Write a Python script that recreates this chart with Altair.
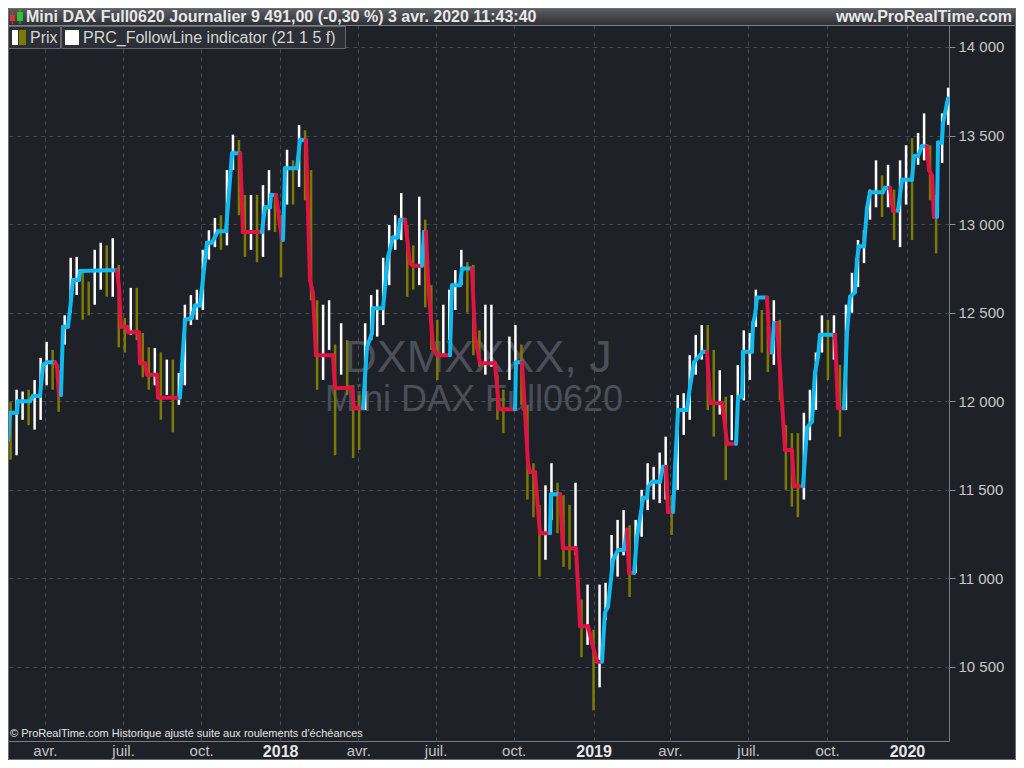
import altair as alt
import pandas as pd

# ---------------- data ----------------
# Weekly price bars (one per week, Wednesday date), high / low in points
week_first = "2017-02-22"
bar_high = [
    11995, 12065, 12055, 12065, 12120, 12245, 12335, 12290, 12175, 12485,
    12810, 12815, 12740, 12675, 12855, 12895, 12880, 12920, 12770, 12470,
    12640, 12640, 12385, 12305, 12300, 12275, 12235, 12235, 12160, 12545,
    12600, 12630, 12855, 12965, 13035, 13050, 13305, 13505, 13475, 13165,
    13165, 13165, 13220, 13305, 13165, 13050, 13420, 13360, 13560, 13530,
    13305, 12570, 12545, 12570, 12320, 12440, 12345, 12090, 12035, 12440,
    12600, 12630, 12810, 12995, 13050, 13175, 12995, 12880, 13155, 13025,
    12655, 12460, 12545, 12630, 12740, 12855, 12785, 12770, 12400, 12545,
    12545, 12150, 12065, 12365, 12430, 12320, 11980, 11650, 11415, 11525,
    11650, 11540, 11470, 11415, 11540, 10880, 10965, 10710, 10965, 10975,
    11245, 11330, 11385, 11300, 11330, 11500, 11650, 11630, 11710, 11800,
    11470, 12035, 12045, 12260, 12375, 12430, 12430, 12290, 12175, 12025,
    12035, 12205, 12400, 12385, 12630, 12515, 12430, 12570, 12460, 11865,
    11820, 11820, 11935, 12065, 12275, 12485, 12460, 12485, 12205, 12545,
    12725, 12910, 12965, 13195, 13360, 13275, 13335, 13195, 13360, 13445,
    13485, 13515, 13625, 13445, 13165, 13625, 13770,
]
bar_low = [
    11670, 11695, 11895, 11865, 11840, 11895, 12090, 12065, 11940, 12320,
    12500, 12600, 12460, 12485, 12545, 12630, 12590, 12590, 12305, 12275,
    12375, 12345, 12135, 12065, 12090, 11895, 12035, 11825, 11980, 12090,
    12430, 12460, 12515, 12800, 12870, 12855, 12880, 13305, 13050, 12815,
    12855, 12785, 12815, 12965, 12955, 12700, 13110, 13110, 13210, 13135,
    12570, 12065, 12120, 12290, 11695, 12150, 12035, 11680, 11725, 11950,
    12345, 12365, 12430, 12655, 12855, 12910, 12590, 12630, 12655, 12530,
    12290, 12120, 12250, 12345, 12515, 12655, 12500, 12260, 12195, 12150,
    12195, 11895, 11820, 12120, 12220, 11980, 11445, 11345, 11010, 11105,
    11330, 11255, 11065, 11050, 11130, 10555, 10625, 10255, 10385, 10765,
    10990, 11010, 11130, 10895, 11030, 11235, 11385, 11445, 11425, 11445,
    11245, 11500, 11810, 11895, 12150, 12235, 11950, 11800, 11925, 11555,
    11780, 11935, 12005, 12120, 12420, 12275, 12165, 12205, 12005, 11500,
    11405, 11345, 11445, 11780, 11950, 12275, 12120, 12235, 11800, 11950,
    12500, 12645, 12780, 13025, 13095, 13040, 13095, 12910, 12870, 13110,
    12910, 13335, 13360, 13135, 12835, 13345, 13560,
]
bar_up = [
    0, 1, 1, 0, 1, 1, 1, 0, 0, 1,
    1, 1, 0, 0, 1, 1, 0, 1, 0, 0,
    1, 0, 0, 0, 1, 0, 1, 0, 1, 1,
    1, 1, 1, 1, 1, 0, 1, 1, 0, 0,
    1, 0, 1, 1, 0, 0, 1, 0, 1, 0,
    0, 0, 1, 1, 0, 1, 0, 0, 0, 1,
    1, 1, 1, 1, 1, 1, 0, 0, 1, 0,
    0, 0, 1, 1, 1, 1, 0, 0, 0, 1,
    1, 0, 0, 1, 1, 0, 0, 0, 0, 1,
    1, 0, 0, 0, 1, 0, 1, 0, 1, 1,
    1, 1, 1, 0, 1, 1, 1, 1, 1, 1,
    0, 1, 1, 1, 1, 1, 0, 0, 1, 0,
    1, 1, 1, 1, 1, 0, 0, 1, 0, 0,
    0, 0, 1, 1, 1, 1, 0, 1, 0, 1,
    1, 1, 1, 1, 1, 0, 1, 0, 1, 1,
    0, 1, 1, 0, 0, 1, 1,
]

# FollowLine indicator: vertices (days after 2017-02-19, value, trend B=up / R=down)
fl_start = "2017-02-19"
fl_day = [
    0, 2.3, 10.5, 11.6, 25.6, 29.1, 37.3, 40.8, 45.4, 54.7,
    57.1, 59.4, 61.7, 64.1, 69.9, 72.2, 75.7, 82.7, 83.9, 115.3,
    127, 129.3, 131.6, 138.6, 139.8, 152.6, 153.7, 159.6, 161.9, 173.5,
    174.7, 200.3, 202.7, 206.2, 214.3, 215.5, 217.8, 223.6, 231.8, 237.6,
    244.6, 253.9, 260.9, 270.4, 273.7, 295.8, 299.3, 305.2, 306.3, 312.1,
    319.1, 320.3, 322.6, 336.6, 340.1, 347.1, 351.7, 355.2, 358.7, 378.5,
    380.8, 400.7, 402.9, 413.5, 418.1, 424, 425.1, 436.8, 442.6, 448.4,
    454.2, 456.6, 462.4, 468.2, 471.7, 482.2, 484.5, 486.8, 489.2, 495,
    499.7, 514.8, 517.1, 526.4, 528.8, 540.4, 543.9, 549.7, 567.2, 571.9,
    590.5, 591.7, 598.7, 602.1, 605.6, 607.9, 613.8, 619.6, 631.3, 632.4,
    642.9, 646.4, 661.6, 666.3, 675.6, 680.2, 686.1, 691.8, 695.3, 698.8,
    704.7, 710.5, 717.5, 721, 723.3, 729.2, 732.6, 737.3, 739.6, 744.3,
    745.4, 750.1, 759.4, 762.9, 766.4, 768.7, 774.6, 776.9, 780.4, 790.8,
    794.3, 799, 806, 809.5, 814.2, 817.6, 831.6, 834, 837.5, 848,
    850.3, 855, 856.1, 866.5, 867.7, 870.1, 872.4, 884, 887.5, 889.9,
    892.2, 895.7, 905, 913.1, 915.5, 926, 930.6, 936.4, 939.9, 943.4,
    945.8, 963.2, 966.7, 973.7, 977.2, 980.7, 986.5, 988.8, 991.1, 997,
    1000.5, 1003.9, 1019.1, 1021.4, 1027.2, 1030.7, 1036.6, 1041.2, 1052.9, 1055.2,
    1059.9, 1064.5, 1070.3, 1072.7, 1076.2, 1078.5, 1082, 1083.2, 1087.8, 1089,
    1094.8,
]
fl_value = [
    11780, 11935, 11935, 12000, 12000, 12030, 12030, 12205, 12220, 12220,
    12200, 12035, 12035, 12420, 12420, 12515, 12685, 12685, 12735, 12740,
    12740, 12645, 12420, 12420, 12390, 12390, 12215, 12215, 12150, 12150,
    12020, 12020, 12205, 12460, 12470, 12500, 12540, 12540, 12895, 12895,
    12960, 12960, 13400, 13400, 12955, 12955, 13095, 13095, 13165, 13165,
    12910, 12910, 13315, 13315, 13475, 13475, 12685, 12610, 12260, 12260,
    12075, 12075, 11960, 11960, 12305, 12385, 12525, 12525, 12815, 12925,
    12925, 13025, 13025, 12780, 12765, 12765, 12955, 12955, 12685, 12305,
    12260, 12260, 12655, 12655, 12750, 12750, 12365, 12215, 12215, 11955,
    11955, 12220, 12220, 11950, 11650, 11600, 11600, 11255, 11255, 11475,
    11475, 11170, 11170, 10730, 10730, 10635, 10530, 10530, 10805, 10840,
    11105, 11160, 11160, 11275, 11030, 11030, 11235, 11375, 11455, 11455,
    11515, 11545, 11545, 11630, 11630, 11375, 11375, 11630, 11950, 11950,
    12080, 12220, 12260, 12280, 12280, 11990, 11990, 11910, 11760, 11760,
    12025, 12025, 12280, 12280, 12440, 12485, 12585, 12585, 12275, 12275,
    12440, 12440, 11725, 11725, 11520, 11520, 11850, 11885, 12160, 12250,
    12375, 12375, 11960, 11960, 12385, 12590, 12615, 12800, 12875, 12875,
    13090, 13180, 13180, 13205, 13205, 13075, 13075, 13250, 13250, 13385,
    13385, 13440, 13440, 13305, 13275, 13040, 13040, 13460, 13460, 13570,
    13710,
]
fl_trend = list(
    "BBBBBBBBBB" "RRRBBBBBBB" "BRRRRRRRRR" "RRBBBBBBBB" "BBBBRRBBBB"
    "RRBBBBRRRR" "RRRRBBBBBB" "BBBRRRBBRR" "RRBBBBRRRR" "RBBRRRRRRB"
    "BRRRRRRRBB" "BBBBRRBBBB" "BBBBBRRBBB" "BBBBBRRRRR" "BBBBBBBBRR"
    "BBRRRRBBBB" "BBRRBBBBBB" "BBBBBRRBBB" "BBBRRRRBBB" "B"
)

y_ticks = [10500, 11000, 11500, 12000, 12500, 13000, 13500, 14000]
x_tick_dates = ["2017-04-03", "2017-07-03", "2017-10-02", "2018-01-02",
                "2018-04-03", "2018-07-02", "2018-10-01", "2019-01-02",
                "2019-04-01", "2019-07-01", "2019-10-01", "2020-01-02"]
x_range = ["2017-02-19", "2020-02-20"]
y_range = [10082, 14124]

title_text = "Mini DAX Full0620 Journalier 9 491,00 (-0,30 %) 3 avr. 2020 11:43:40"
site_text = "www.ProRealTime.com"
legend_prix = "Prix"
legend_fl = "PRC_FollowLine indicator (21 1 5 f)"
wm_1 = "DXMXXXX, J"
wm_2 = "Mini DAX Full0620"
foot_text = "© ProRealTime.com  Historique ajusté suite aux roulements d'échéances"

# ---------------- styling ----------------
BG = "#1f2129"
GRID = "#464953"
BLUE = "#0fbaf0"
RED = "#e01440"
OLIVE = "#7b7b00"
FONT = "Liberation Sans"
W, H = 941, 716
PAD = {"left": 0, "top": 17, "right": 67, "bottom": 19}
TOTAL_W = W + PAD["left"] + PAD["right"]


def ms(s):
    return int(pd.Timestamp(s, tz="UTC").timestamp() * 1000)


DAY = 86400000
n = min(len(bar_high), len(bar_low), len(bar_up))
weeks = pd.date_range(week_first, periods=n, freq="7D", tz="UTC")
bars = pd.DataFrame({
    "date": [int(d.timestamp() * 1000) for d in weeks],
    "high": bar_high[:n],
    "low": bar_low[:n],
    "dir": ["up" if u else "down" for u in bar_up[:n]],
})

m = min(len(fl_day), len(fl_value), len(fl_trend))
base = ms(fl_start)
fl_ms = [base + d * DAY for d in fl_day[:m]]
seg = pd.DataFrame({
    "x": fl_ms[:-1],
    "x2": fl_ms[1:],
    "y": fl_value[:m - 1],
    "y2": fl_value[1:m],
    "trend": fl_trend[1:m],
})

x_scale = alt.Scale(type="utc", domain=[ms(x_range[0]), ms(x_range[1])], nice=False)
y_scale = alt.Scale(domain=y_range, nice=False, zero=False)

is_year = "utcmonth(datum.value) == 0"
x_axis = alt.Axis(
    values=[ms(d) for d in x_tick_dates],
    labelExpr=("utcmonth(datum.value) == 0 ? utcFormat(datum.value, '%Y') : "
               "(utcmonth(datum.value) == 3 ? 'avr.' : "
               "(utcmonth(datum.value) == 6 ? 'juil.' : 'oct.'))"),
    grid=True, gridColor=GRID, gridDash=[4, 4], gridWidth=1,
    ticks=False, domain=False, title=None,
    labelFont=FONT, labelPadding=2, labelFlush=False, labelOverlap=False,
    labelFontSize={"condition": {"test": is_year, "value": 16}, "value": 15},
    labelFontWeight={"condition": {"test": is_year, "value": "bold"}, "value": "normal"},
    labelColor={"condition": {"test": is_year, "value": "#e8e8e8"}, "value": "#c4c4c4"},
)
y_axis = alt.Axis(
    orient="right", values=y_ticks,
    labelExpr="replace(format(datum.value, ',d'), ',', ' ')",
    grid=True, gridColor=GRID, gridDash=[4, 4], gridWidth=1,
    ticks=True, tickSize=6, tickColor="#8a8c91", domain=False, title=None,
    labelFont=FONT, labelFontSize=15, labelColor="#c8c8c8", labelPadding=3,
)

one = pd.DataFrame({"k": [0]})
base_chart = alt.Chart(one)

# watermark
wm_a = base_chart.mark_text(font=FONT, fontSize=45, color="#4c4f58", align="center",
                            baseline="alphabetic").encode(
    x=alt.value(470), y=alt.value(347), text=alt.value(wm_1))
wm_b = base_chart.mark_text(font=FONT, fontSize=36, color="#4c4f58", align="center",
                            baseline="alphabetic").encode(
    x=alt.value(466), y=alt.value(386), text=alt.value(wm_2))

# price bars
bar_layer = alt.Chart(bars).mark_rule(strokeWidth=2.5).encode(
    x=alt.X("date:T", scale=x_scale, axis=x_axis),
    y=alt.Y("high:Q", scale=y_scale, axis=y_axis),
    y2="low:Q",
    color=alt.Color("dir:N", scale=alt.Scale(domain=["up", "down"], range=["#ffffff", OLIVE]),
                    legend=None),
)

# follow line
fl_layer = alt.Chart(seg).mark_rule(strokeWidth=4, strokeCap="round").encode(
    x=alt.X("x:T", scale=x_scale, axis=x_axis),
    x2="x2:T",
    y=alt.Y("y:Q", scale=y_scale, axis=y_axis),
    y2="y2:Q",
    stroke=alt.Stroke("trend:N", scale=alt.Scale(domain=["B", "R"], range=[BLUE, RED]),
                      legend=None),
)

# header band
header = base_chart.mark_rect(
    fill=alt.LinearGradient(gradient="linear",
                            stops=[alt.GradientStop(color="#5b5e63", offset=0),
                                   alt.GradientStop(color="#2e3035", offset=1)],
                            x1=0, x2=0, y1=0, y2=1)
).encode(x=alt.value(0), x2=alt.value(TOTAL_W), y=alt.value(-PAD["top"]), y2=alt.value(0))
header_line = base_chart.mark_rule(color="#7e8085", strokeWidth=1).encode(
    x=alt.value(0), x2=alt.value(TOTAL_W), y=alt.value(0.5))
icon_red = base_chart.mark_rect(color="#e03030").encode(
    x=alt.value(2), x2=alt.value(7), y=alt.value(-10), y2=alt.value(-4))
icon_red_w = base_chart.mark_rule(color="#e03030").encode(
    x=alt.value(4.5), y=alt.value(-13), y2=alt.value(-1))
icon_green = base_chart.mark_rect(color="#30c030").encode(
    x=alt.value(9), x2=alt.value(15), y=alt.value(-13), y2=alt.value(-4))
icon_green_w = base_chart.mark_rule(color="#30c030").encode(
    x=alt.value(12), y=alt.value(-16), y2=alt.value(-1))
title = base_chart.mark_text(font=FONT, fontSize=16, fontWeight="bold", color="#e8e8e8",
                             align="left", baseline="middle").encode(
    x=alt.value(18), y=alt.value(-8), text=alt.value(title_text))
site = base_chart.mark_text(font=FONT, fontSize=16, fontWeight="bold", color="#e8e8e8",
                            align="right", baseline="middle").encode(
    x=alt.value(TOTAL_W - 4), y=alt.value(-8), text=alt.value(site_text))

# legend row
leg_box1 = base_chart.mark_rect(fill="#2c2f35", stroke="#62656b", strokeWidth=1).encode(
    x=alt.value(0.5), x2=alt.value(52.5), y=alt.value(1.5), y2=alt.value(23.5))
leg_box2 = base_chart.mark_rect(fill="#2c2f35", stroke="#62656b", strokeWidth=1).encode(
    x=alt.value(53.5), x2=alt.value(337.5), y=alt.value(1.5), y2=alt.value(23.5))
sw_white = base_chart.mark_rect(color="#ffffff").encode(
    x=alt.value(4), x2=alt.value(10), y=alt.value(5), y2=alt.value(20))
sw_olive = base_chart.mark_rect(color=OLIVE).encode(
    x=alt.value(11), x2=alt.value(18), y=alt.value(5), y2=alt.value(20))
sw_fl = base_chart.mark_rect(color="#ffffff").encode(
    x=alt.value(57), x2=alt.value(71), y=alt.value(5), y2=alt.value(20))
leg_t1 = base_chart.mark_text(font=FONT, fontSize=16, color="#d6d6d6", align="left",
                              baseline="middle").encode(
    x=alt.value(22), y=alt.value(13), text=alt.value(legend_prix))
leg_t2 = base_chart.mark_text(font=FONT, fontSize=16, color="#d6d6d6", align="left",
                              baseline="middle").encode(
    x=alt.value(75), y=alt.value(13), text=alt.value(legend_fl))

# footer note inside plot
foot = base_chart.mark_text(font=FONT, fontSize=11, color="#e4e4e4", align="left",
                            baseline="alphabetic").encode(
    x=alt.value(2), y=alt.value(712), text=alt.value(foot_text))

# outer frame
frame = base_chart.mark_rect(fill=None, stroke="#6c6e73", strokeWidth=1, fillOpacity=0).encode(
    x=alt.value(0.5), x2=alt.value(TOTAL_W - 0.5),
    y=alt.value(-PAD["top"] + 0.5), y2=alt.value(H + PAD["bottom"] - 0.5))

chart = alt.layer(
    wm_a, wm_b, bar_layer, fl_layer,
    header, header_line, icon_red_w, icon_red, icon_green_w, icon_green, title, site,
    leg_box1, leg_box2, sw_white, sw_olive, sw_fl, leg_t1, leg_t2, foot, frame,
).resolve_scale(
    color="independent", stroke="independent",
).properties(
    width=W, height=H, padding=PAD,
    autosize=alt.AutoSizeParams(type="none"),
    background=BG,
).configure_view(
    stroke="#7a7c81", strokeWidth=1, fill=BG,
)

chart.save("out.html", embed_options={"renderer": "svg", "actions": False})
